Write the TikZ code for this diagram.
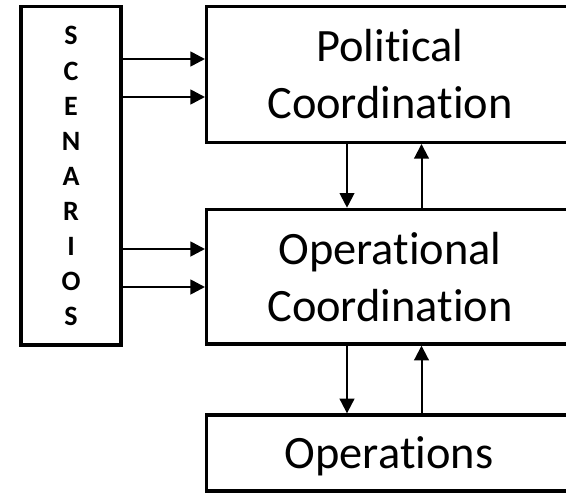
\documentclass[tikz,border=0pt]{standalone}
\usepackage{fontspec}
\setmainfont{Carlito}[Ligatures={NoCommon,NoRare,NoContextual}]
\usetikzlibrary{arrows.meta}
\begin{document}
\begin{tikzpicture}[x=0.75pt,y=-0.75pt,
  box/.style={draw=black, line width=2.5pt, inner sep=0pt, anchor=center},
  lbl/.style={anchor=base, inner sep=0pt, font=\fontsize{34.8}{42}\selectfont},
  letter/.style={anchor=base, inner sep=0pt, font=\fontsize{21}{25}\selectfont\bfseries},
  harr/.style={-{Triangle[length=11pt,width=11pt]}, line width=2pt},
  varr/.style={-{Triangle[length=11pt,width=11pt]}, line width=1.5pt}]
\useasboundingbox (0,0) rectangle (566,492);
\clip (0,0) rectangle (566,492);
\fill[white] (0,0) rectangle (566,492);

% boxes
\node[box, minimum width=75pt, minimum height=253.7pt] (scen) at (71,175.8) {};
\node[box, minimum width=276.5pt, minimum height=101.7pt] (pol) at (391,74.5) {};
\node[box, minimum width=276.5pt, minimum height=101pt] (opc) at (391,276.7) {};
\node[box, minimum width=276.5pt, minimum height=57pt] (ops) at (391,453) {};

% labels
\node[lbl] (pol1) at (390,61) {Political};
\node[lbl] (pol2) at (390,118) {Coordination};
\node[lbl] (opc1) at (390,264) {Operational};
\node[lbl] (opc2) at (390,321) {Coordination};
\node[lbl] (ops1) at (389,468) {Operations};

% vertical lettering
\foreach \c [count=\k from 0] in {S,C,E,N,A,R,I,O,S}
  \node[letter] (s\k) at (71,{45+35.1*\k}) {\c};

% arrow positions
\coordinate (ya) at (0,59);
\coordinate (yb) at (0,97);
\coordinate (yc) at (0,249);
\coordinate (yd) at (0,287);
\coordinate (xd) at (347,0);
\coordinate (xu) at (421.5,0);

% scenarios feed both coordination levels
\draw[harr] (scen.east |- ya) -- (pol.west |- ya);
\draw[harr] (scen.east |- yb) -- (pol.west |- yb);
\draw[harr] (scen.east |- yc) -- (opc.west |- yc);
\draw[harr] (scen.east |- yd) -- (opc.west |- yd);

% two-way links between levels
\draw[varr] (pol.south -| xd) -- (opc.north -| xd);
\draw[varr] (opc.north -| xu) -- (pol.south -| xu);
\draw[varr] (opc.south -| xd) -- (ops.north -| xd);
\draw[varr] (ops.north -| xu) -- (opc.south -| xu);
\end{tikzpicture}
\end{document}
